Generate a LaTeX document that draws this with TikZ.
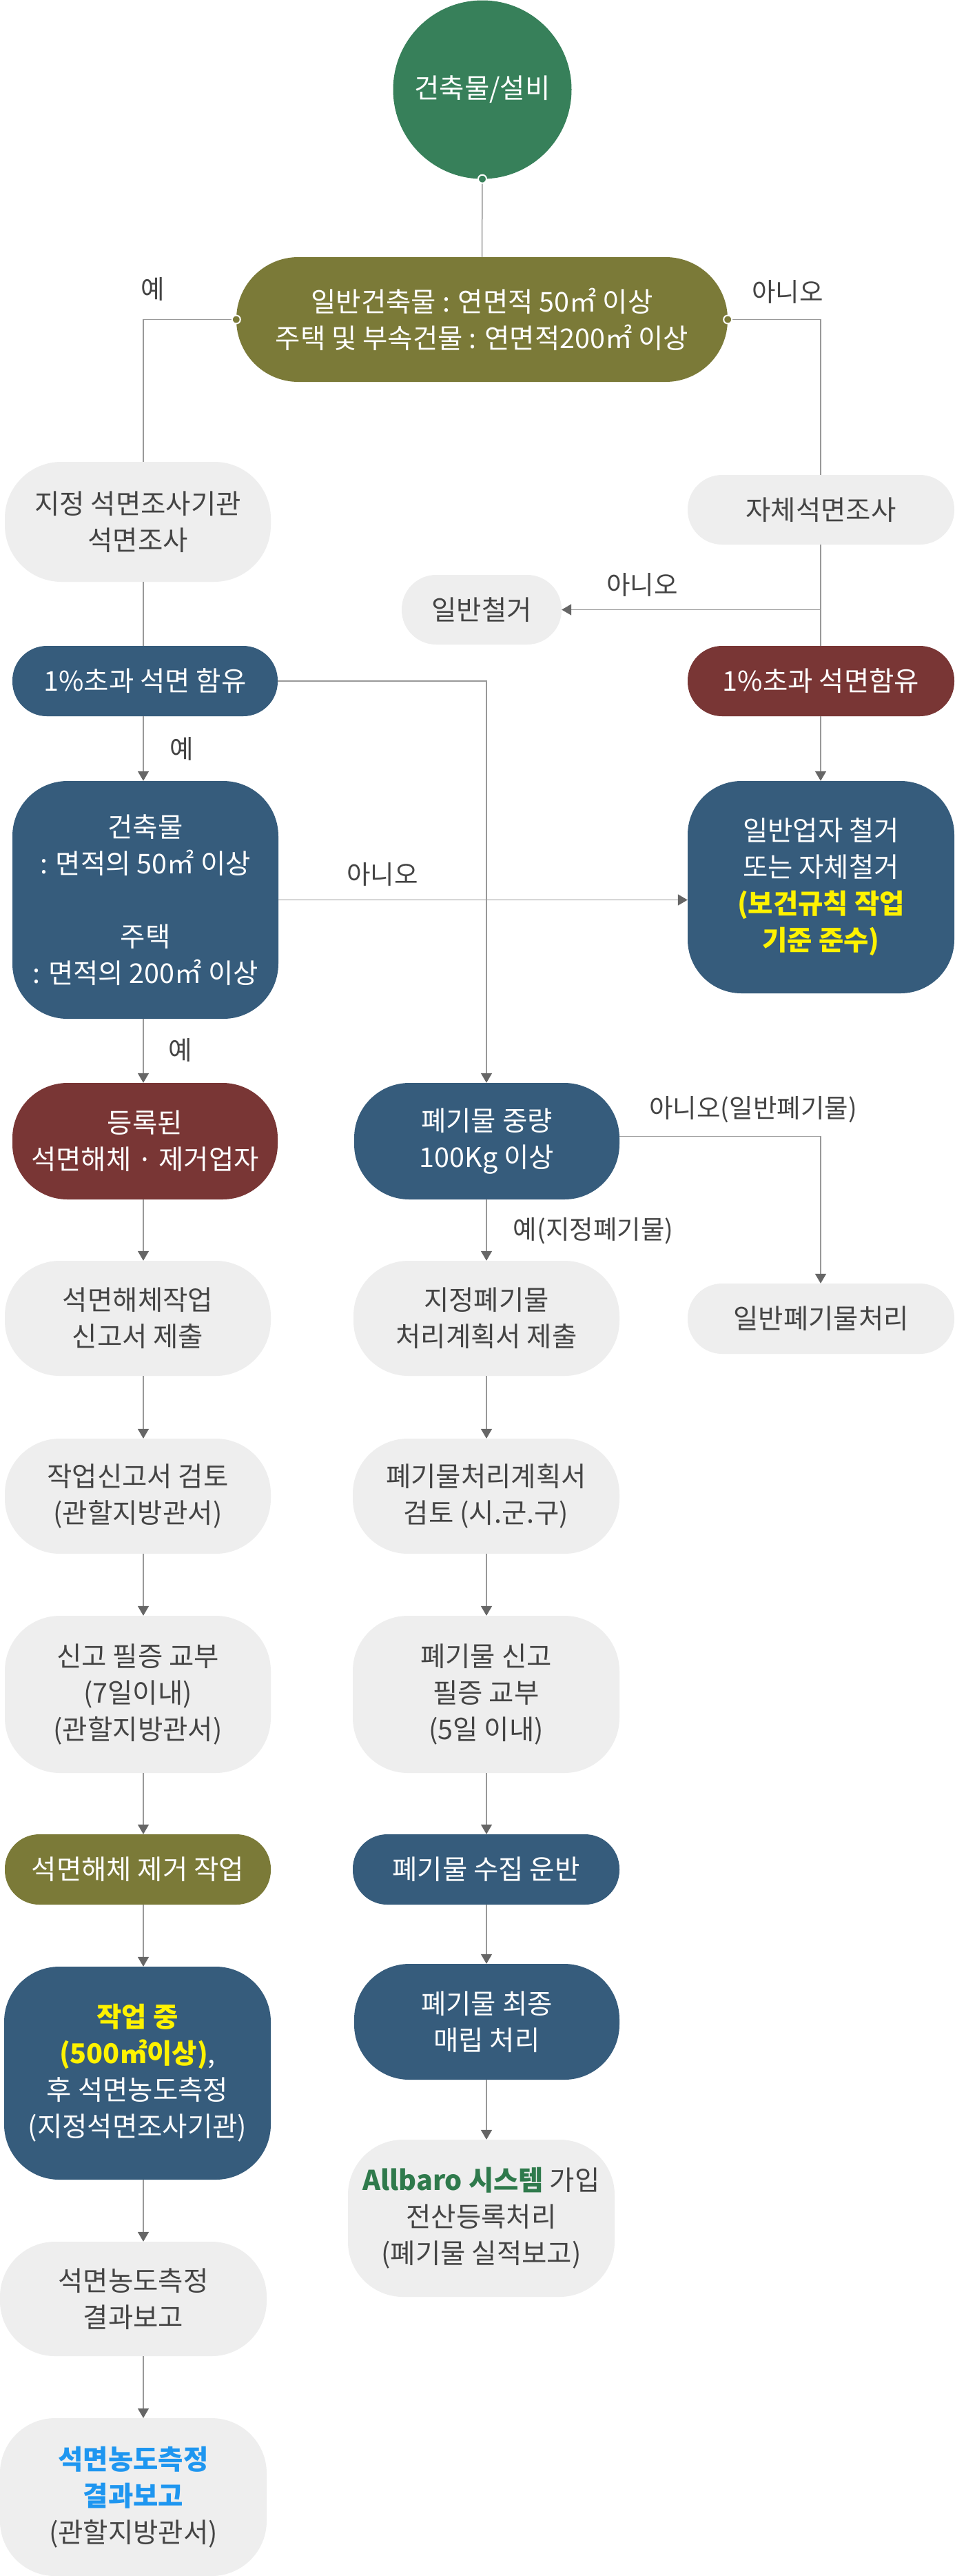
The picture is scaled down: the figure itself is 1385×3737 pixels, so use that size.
\documentclass[tikz,border=0pt]{standalone}
\usepackage{fontspec}
\setmainfont{Noto Sans CJK KR}
\usetikzlibrary{arrows.meta}
\definecolor{cgreen}{HTML}{37805A}
\definecolor{colive}{HTML}{7B7A38}
\definecolor{cblue}{HTML}{365C7C}
\definecolor{cred}{HTML}{793635}
\definecolor{cgray}{HTML}{EEEEEE}
\definecolor{ctext}{HTML}{444444}
\definecolor{cline}{HTML}{999999}
\definecolor{carrow}{HTML}{666666}
\definecolor{cyellow}{HTML}{FFF200}
\definecolor{callbaro}{HTML}{2F7A4C}
\definecolor{cskyblue}{HTML}{1E96F0}
\tikzset{
  base/.style={inner sep=0pt, align=center, font=\fontsize{39.5}{53}\selectfont},
  gbox/.style={base, fill=cgray, text=ctext},
  bbox/.style={base, fill=cblue, text=white},
  rbox/.style={base, fill=cred, text=white},
  obox/.style={base, fill=colive, text=white},
  lbl/.style={inner sep=0pt, text=ctext, font=\fontsize{37.5}{45}\selectfont},
  ln/.style={draw=cline, line width=1.5pt},
  arr/.style={ln, -{Triangle[width=16pt,length=14pt,color=carrow]}},
  dotc/.style={line width=2pt, draw=white},
}
\begin{document}
\begin{tikzpicture}[x=1pt,y=-1pt]
\useasboundingbox (0,0) rectangle (1385,3737);
\fill[white] (0,0) rectangle (1385,3737);

% coordinates of the connector columns
\coordinate (xl) at (208,0);
\coordinate (xm) at (706,0);
\coordinate (xr) at (1191,0);

% nodes
\node[base, circle, fill=cgreen, text=white, minimum size=259pt] (top) at (700,130) {건축물/설비};
\node[obox, rounded corners=90pt, minimum width=713pt, minimum height=181pt] (dec) at (699.5,463.5)
  {일반건축물 : 연면적 50㎡ 이상\\주택 및 부속건물 : 연면적200㎡ 이상};
\node[gbox, rounded corners=82pt, minimum width=386pt, minimum height=174pt] (jj) at (200,757)
  {지정 석면조사기관\\석면조사};
\node[gbox, rounded corners=50pt, minimum width=387pt, minimum height=101pt] (self) at (1191.5,739.5)
  {자체석면조사};
\node[gbox, rounded corners=50pt, minimum width=232pt, minimum height=101pt] (demo) at (699,884.5)
  {일반철거};
\node[bbox, rounded corners=50pt, minimum width=385pt, minimum height=102pt] (b1) at (210.5,988)
  {1\%초과 석면 함유};
\node[rbox, rounded corners=50pt, minimum width=387pt, minimum height=102pt] (r1) at (1191.5,988)
  {1\%초과 석면함유};
\node[bbox, rounded corners=80pt, minimum width=386pt, minimum height=345pt] (bld) at (211,1305.5)
  {건축물\\: 면적의 50㎡ 이상\\[53pt]주택\\: 면적의 200㎡ 이상};
\node[bbox, rounded corners=78pt, minimum width=387pt, minimum height=308pt] (gen) at (1191.5,1287)
  {일반업자 철거\\또는 자체철거\\{\bfseries\color{cyellow}(보건규칙 작업}\\{\bfseries\color{cyellow}기준 준수)}};
\node[rbox, rounded corners=80pt, minimum width=385pt, minimum height=169pt] (reg) at (210.5,1655.5)
  {등록된\\석면해체 · 제거업자};
\node[bbox, rounded corners=80pt, minimum width=385pt, minimum height=169pt] (w1) at (706.5,1655.5)
  {폐기물 중량\\100Kg 이상};
\node[gbox, rounded corners=80pt, minimum width=386pt, minimum height=167pt] (l1) at (200,1912.5)
  {석면해체작업\\신고서 제출};
\node[gbox, rounded corners=80pt, minimum width=386pt, minimum height=167pt] (m1) at (706,1912.5)
  {지정폐기물\\처리계획서 제출};
\node[gbox, rounded corners=50pt, minimum width=387pt, minimum height=102pt] (gw) at (1191.5,1913)
  {일반폐기물처리};
\node[gbox, rounded corners=80pt, minimum width=386pt, minimum height=167pt] (l2) at (200,2170.5)
  {작업신고서 검토\\(관할지방관서)};
\node[gbox, rounded corners=80pt, minimum width=387pt, minimum height=167pt] (m2) at (705.5,2170.5)
  {폐기물처리계획서\\검토 (시.군.구)};
\node[gbox, rounded corners=80pt, minimum width=386pt, minimum height=228pt] (l3) at (200,2458)
  {신고 필증 교부\\(7일이내)\\(관할지방관서)};
\node[gbox, rounded corners=80pt, minimum width=387pt, minimum height=228pt] (m3) at (705.5,2458)
  {폐기물 신고\\필증 교부\\(5일 이내)};
\node[obox, rounded corners=50pt, minimum width=386pt, minimum height=102pt] (l4) at (200,2712)
  {석면해체 제거 작업};
\node[bbox, rounded corners=50pt, minimum width=387pt, minimum height=102pt] (m4) at (705.5,2712)
  {폐기물 수집 운반};
\node[bbox, rounded corners=80pt, minimum width=387pt, minimum height=309pt] (l5) at (199.5,3007.5)
  {{\bfseries\color{cyellow}작업 중}\\{\bfseries\color{cyellow}(500㎡이상)},\\후 석면농도측정\\(지정석면조사기관)};
\node[bbox, rounded corners=80pt, minimum width=385pt, minimum height=168pt] (m5) at (706.5,2933)
  {폐기물 최종\\매립 처리};
\node[gbox, rounded corners=80pt, minimum width=387pt, minimum height=166pt] (l6) at (193.5,3335)
  {석면농도측정\\결과보고};
\node[gbox, rounded corners=80pt, minimum width=387pt, minimum height=228pt] (m6) at (698.5,3218)
  {{\bfseries\color{callbaro}Allbaro 시스템} 가입\\전산등록처리\\(폐기물 실적보고)};
\node[gbox, rounded corners=80pt, minimum width=387pt, minimum height=229pt] (l7) at (193.5,3622.5)
  {{\bfseries\color{cskyblue}석면농도측정}\\{\bfseries\color{cskyblue}결과보고}\\(관할지방관서)};

% connectors
\draw[ln] (top.south) -- (dec.north);
\draw[ln] (dec.west) -| (jj.north -| xl);
\draw[ln] (dec.east) -| (self.north -| xr);
\draw[ln] (jj.south -| xl) -- (b1.north -| xl);
\draw[ln] (self.south -| xr) -- (r1.north -| xr);
\draw[arr] (demo.east -| xr) -- (demo.east);
\draw[arr] (b1.south -| xl) -- (bld.north -| xl);
\draw[arr] (b1.east) -| (w1.north -| xm);
\draw[arr] (r1.south -| xr) -- (gen.north -| xr);
\draw[arr] (bld.east) -- (bld.east -| gen.west);
\draw[arr] (bld.south -| xl) -- (reg.north -| xl);
\draw[arr] ([yshift=7pt]w1.east) -| (gw.north -| xr);
\draw[arr] (w1.south -| xm) -- (m1.north -| xm);
\draw[arr] (reg.south -| xl) -- (l1.north -| xl);
\draw[arr] (l1.south -| xl) -- (l2.north -| xl);
\draw[arr] (l2.south -| xl) -- (l3.north -| xl);
\draw[arr] (l3.south -| xl) -- (l4.north -| xl);
\draw[arr] (l4.south -| xl) -- (l5.north -| xl);
\draw[arr] (l5.south -| xl) -- (l6.north -| xl);
\draw[arr] (l6.south -| xl) -- (l7.north -| xl);
\draw[arr] (m1.south -| xm) -- (m2.north -| xm);
\draw[arr] (m2.south -| xm) -- (m3.north -| xm);
\draw[arr] (m3.south -| xm) -- (m4.north -| xm);
\draw[arr] (m4.south -| xm) -- (m5.north -| xm);
\draw[arr] (m5.south -| xm) -- (m6.north -| xm);

% connection dots
\filldraw[dotc, fill=cgreen] (top.south) circle (6pt);
\filldraw[dotc, fill=colive] (dec.west) circle (6pt);
\filldraw[dotc, fill=colive] (dec.east) circle (6pt);

% labels
\node[lbl] (lyes1) at (222,419) {예};
\node[lbl] (lno1) at (1143,423) {아니오};
\node[lbl] (lno2) at (932,848) {아니오};
\node[lbl] (lyes2) at (264,1086) {예};
\node[lbl] (lno3) at (555,1268) {아니오};
\node[lbl] (lyes3) at (262,1523) {예};
\node[lbl] (lno4) at (1093,1610) {아니오(일반폐기물)};
\node[lbl] (lyes4) at (861,1786) {예(지정폐기물)};
\end{tikzpicture}
\end{document}
